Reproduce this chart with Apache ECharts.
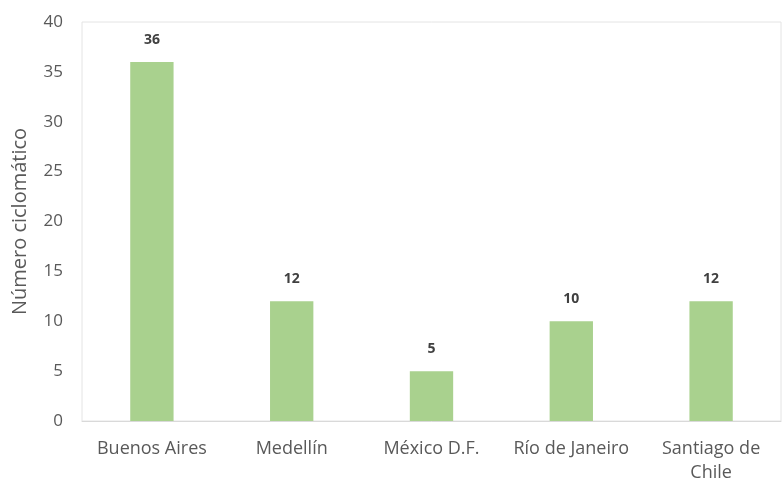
<!DOCTYPE html>
<html>
<head>
<meta charset="utf-8">
<script src="https://cdn.jsdelivr.net/npm/echarts@6/dist/echarts.min.js"></script>
<style>
  html, body { margin: 0; padding: 0; background: #fff; }
  #chart { width: 783px; height: 485px; }
</style>
</head>
<body>
<div id="chart"></div>
<script>
// Cities and their cyclomatic numbers
const cities = ['Buenos Aires', 'Medellín', 'México D.F.', 'Río de Janeiro', 'Santiago de\nChile'];
const values = [36, 12, 5, 10, 12];
const yTicks = { min: 0, max: 40, interval: 5 };
const yAxisTitle = 'Número ciclomático';

const chart = echarts.init(document.getElementById('chart'));
chart.setOption({
  animation: false,
  backgroundColor: '#ffffff',
  textStyle: { fontFamily: 'Open Sans, Noto Sans, sans-serif' },
  grid: {
    left: 82, right: 2, top: 22, bottom: 63,
    show: true, borderColor: '#e4e4e4', borderWidth: 1, backgroundColor: 'transparent'
  },
  xAxis: {
    type: 'category',
    data: cities,
    axisLine: { show: true, lineStyle: { color: '#d9d9d9', width: 1 } },
    axisTick: { show: false },
    axisLabel: {
      interval: 0, hideOverlap: false,
      color: '#595959', fontSize: 18, margin: 16, lineHeight: 24
    }
  },
  yAxis: {
    type: 'value',
    min: yTicks.min, max: yTicks.max, interval: yTicks.interval,
    name: yAxisTitle,
    nameLocation: 'middle',
    nameGap: 52,
    nameTextStyle: { color: '#595959', fontSize: 20 },
    axisLine: { show: false },
    axisTick: { show: false },
    splitLine: { show: false },
    axisLabel: { color: '#595959', fontSize: 17, margin: 19 }
  },
  series: [{
    type: 'bar',
    data: values,
    barWidth: '31%',
    itemStyle: { color: '#a9d18e' },
    label: {
      show: true, position: 'top', distance: 15,
      color: '#404040', fontSize: 14, fontWeight: 'bold'
    }
  }]
});
</script>
</body>
</html>
